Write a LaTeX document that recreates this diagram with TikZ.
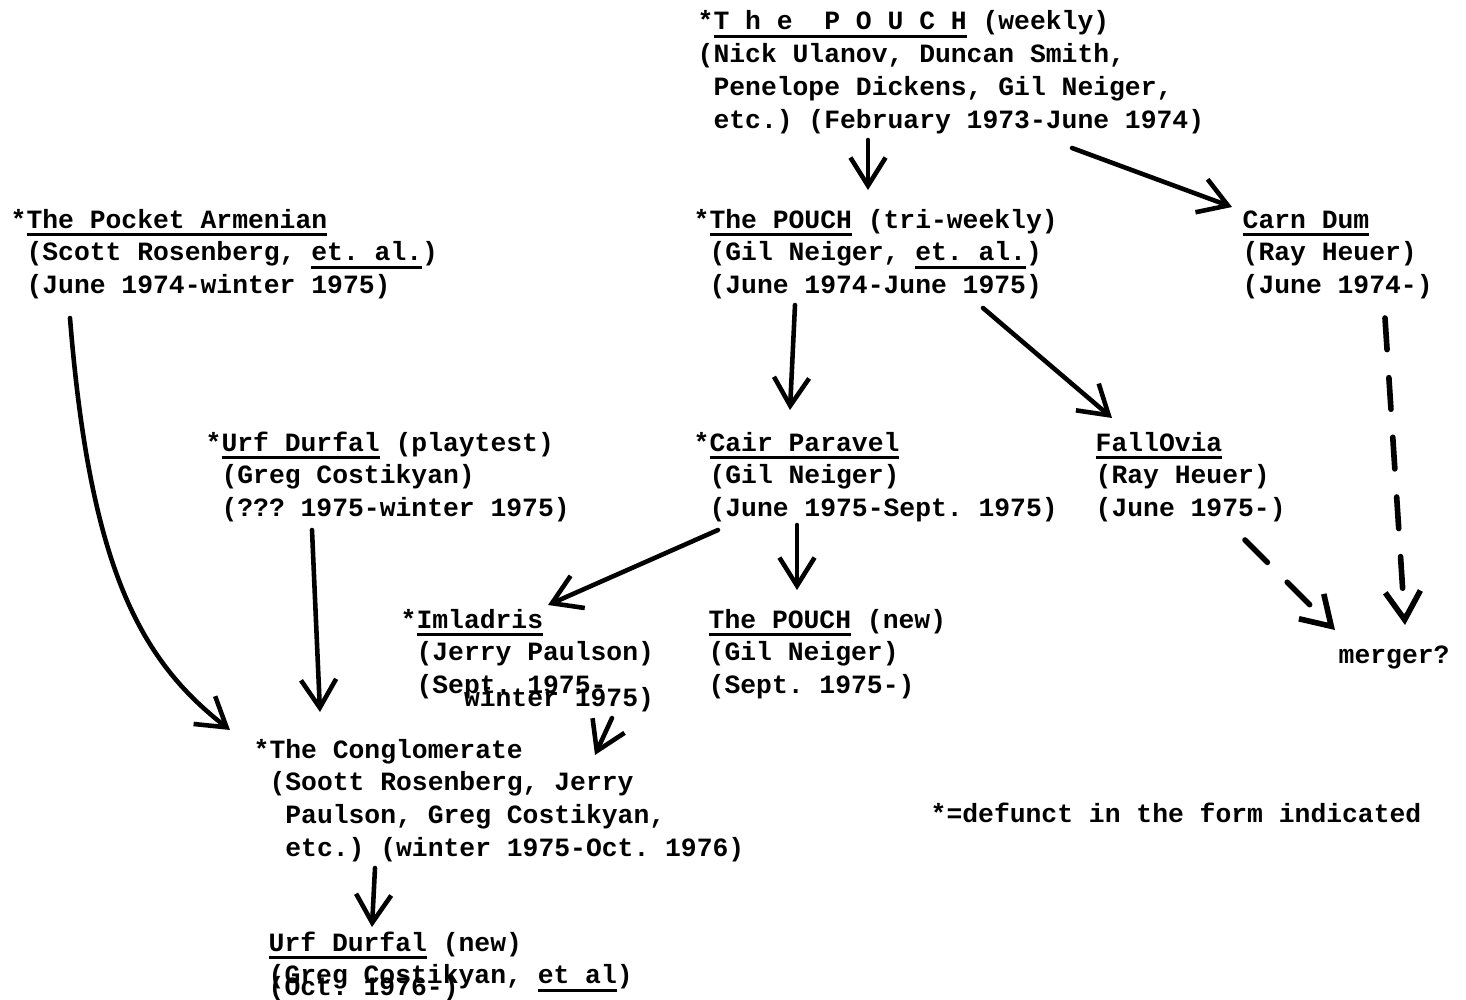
\documentclass[tikz,border=0pt]{standalone}
\usepackage{fontspec}
\setmonofont{Liberation Mono}
\usetikzlibrary{arrows.meta,calc}

% one typewriter column, a typed underline, and a typed block
% whose baseline is the baseline of its first line
\newcommand{\sk}{\hphantom{x}}
\newcommand{\undl}[1]{\setbox0\hbox{#1}\rlap{\rule[-2.2pt]{\wd0}{0.8pt}}\box0\relax}
\newcommand{\typed}[1]{\vtop{\def\\{\cr}\halign{##\hfil\cr#1\crcr}}}

\begin{document}
\begin{tikzpicture}[x=0.01cm,y=-0.01cm,
    font=\ttfamily\bfseries\fontsize{7.5}{9.36}\selectfont,
    entry/.style={anchor=base west,inner sep=0pt},
    link/.style={-{Straight Barb[length=8pt,width=10pt]},line width=1.3pt,line cap=round},
    maybe/.style={link,line width=1.6pt,dash pattern=on 9pt off 8pt}]
  \useasboundingbox (0,0) rectangle (1466,1000);

  \node[entry] (weekly) at (697,30) {\typed{*\undl{T h e\ \ P O U C H} (weekly)\\
    (Nick Ulanov, Duncan Smith,\\
    \sk Penelope Dickens, Gil Neiger,\\
    \sk etc.) (February 1973-June 1974)}};

  \node[entry] (pocket) at (10,228) {\typed{*\undl{The Pocket Armenian}\\
    \sk(Scott Rosenberg, \undl{et. al.})\\
    \sk(June 1974-winter 1975)}};
  \node[entry] (triweekly) at (693,228) {\typed{*\undl{The POUCH} (tri-weekly)\\
    \sk(Gil Neiger, \undl{et. al.})\\
    \sk(June 1974-June 1975)}};
  \node[entry] (carndum) at (1242,228) {\typed{\undl{Carn Dum}\\
    (Ray Heuer)\\
    (June 1974-)}};

  \node[entry] (urfplay) at (205,451) {\typed{*\undl{Urf Durfal} (playtest)\\
    \sk(Greg Costikyan)\\
    \sk(??? 1975-winter 1975)}};
  \node[entry] (cair) at (693,451) {\typed{*\undl{Cair Paravel}\\
    \sk(Gil Neiger)\\
    \sk(June 1975-Sept. 1975)}};
  \node[entry] (fallovia) at (1095,451) {\typed{\undl{FallOvia}\\
    (Ray Heuer)\\
    (June 1975-)}};

  \node[entry] (imladris) at (400,628) {\typed{*\undl{Imladris}\\
    \sk(Jerry Paulson)\\
    \sk(Sept. 1975-\\ \noalign{\vskip-5.7pt}
    \sk\sk\sk\sk winter 1975)}};
  \node[entry] (pouchnew) at (708,628) {\typed{\undl{The POUCH} (new)\\
    (Gil Neiger)\\
    (Sept. 1975-)}};
  \node[entry] (merger) at (1338,663) {merger?};

  \node[entry] (conglom) at (253,758) {\typed{*The Conglomerate\\
    \sk(Soott Rosenberg, Jerry\\
    \sk\sk Paulson, Greg Costikyan,\\
    \sk\sk etc.) (winter 1975-Oct. 1976)}};
  \node[entry] (defunct) at (930,822) {*=defunct in the form indicated};

  \node[entry] (urfnew) at (268,951) {\typed{\undl{Urf Durfal} (new)\\
    (Greg Costikyan, \undl{et al})\\ \noalign{\vskip-6pt}
    (Oct. 1976-)}};

  % top line
  \draw[link] ($(weekly.base west)+(171,110)$) -- ($(triweekly.base west)+(175,-38)$);
  \draw[link] ($(weekly.base west)+(375,118)$) -- ($(carndum.base west)+(-10,-21)$);
  \draw[link] ($(triweekly.base west)+(102,77)$) -- ($(cair.base west)+(97,-41)$);
  \draw[link] ($(triweekly.base west)+(290,80)$) -- ($(fallovia.base west)+(17,-33)$);
  \draw[link] ($(cair.base west)+(25,79)$) -- ($(imladris.base west)+(148,-23)$);
  \draw[link] ($(cair.base west)+(104,74)$) -- ($(pouchnew.base west)+(89,-38)$);

  % into the merger
  \draw[maybe] ($(carndum.base west)+(143,90)$) -- ($(merger.base west)+(67,-38)$);
  \draw[maybe] ($(fallovia.base west)+(150,89)$) -- ($(merger.base west)+(-3,-33)$);

  % left side
  \draw[link] ($(pocket.base west)+(60,90)$) .. controls +(20,250) and +(-90,-70) .. ($(conglom.base west)+(-23,-28)$);
  \draw[link] ($(urfplay.base west)+(107,79)$) -- ($(conglom.base west)+(67,-46)$);
  \draw[link] ($(imladris.base west)+(212,90)$) -- ($(conglom.base west)+(342,-3)$);
  \draw[link] ($(conglom.base west)+(122,110)$) -- ($(urfnew.base west)+(104,-24)$);
\end{tikzpicture}
\end{document}
